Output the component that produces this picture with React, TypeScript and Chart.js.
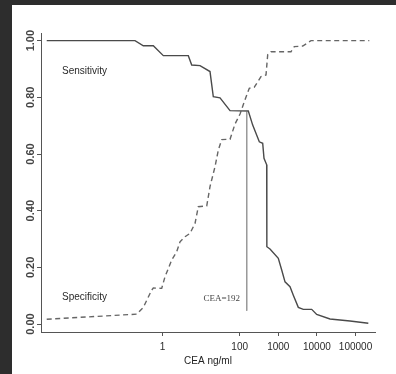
import React, { useEffect, useRef } from "react";
import { Chart, registerables } from "chart.js";

Chart.register(...registerables);

// Sensitivity curve (solid)
const sensitivityX = [0.001, 0.194, 0.318, 0.578, 1.05, 4.66, 5.71, 9.36, 17.0, 20.7, 30.9, 56.1, 167, 217, 322, 394, 426, 500, 505, 609, 1000, 1225, 1492, 2011, 2448, 3298, 4443, 7330, 9880, 21840, 72100, 214800];
const sensitivityY = [1.0, 1.0, 0.982, 0.982, 0.947, 0.947, 0.914, 0.912, 0.891, 0.802, 0.798, 0.753, 0.752, 0.702, 0.643, 0.638, 0.585, 0.562, 0.273, 0.265, 0.232, 0.191, 0.149, 0.132, 0.102, 0.059, 0.052, 0.052, 0.034, 0.018, 0.011, 0.003];

// Specificity curve (dashed)
const specificityX = [0.001, 0.215, 0.318, 0.525, 0.578, 0.953, 1.16, 1.73, 2.33, 2.84, 3.83, 5.16, 6.95, 8.46, 14.0, 17.0, 22.9, 27.9, 34.2, 56.1, 75.5, 102, 137, 177, 239, 356, 480, 531, 647, 2133, 2600, 4290, 7030, 228000];
const specificityY = [0.017, 0.035, 0.059, 0.12, 0.127, 0.126, 0.167, 0.226, 0.255, 0.29, 0.308, 0.32, 0.355, 0.414, 0.417, 0.485, 0.555, 0.614, 0.651, 0.652, 0.706, 0.741, 0.791, 0.832, 0.836, 0.873, 0.879, 0.95, 0.961, 0.961, 0.979, 0.981, 1.0, 1.0];

// Cut-off marker line
const cutoffX = [152, 152];
const cutoffY = [0.749, 0.047];

// Axis ticks
const xTickValues = [1, 100, 1000, 10000, 100000];
const yTickValues = [0, 0.2, 0.4, 0.6, 0.8, 1.0];

// Text notes
const noteTexts = ["Sensitivity", "Specificity", "CEA=192"];
const noteX = [0.0025, 0.0025, 102];
const noteY = [0.893, 0.094, 0.088];

const toPoints = (xs: number[], ys: number[]) => xs.map((x, i) => ({ x, y: ys[i] }));

const notesPlugin = {
  id: "textNotes",
  afterDatasetsDraw(chart: any) {
    const { ctx, scales } = chart;
    const xs = scales.x;
    const ys = scales.y;
    ctx.save();
    ctx.textBaseline = "middle";
    noteTexts.forEach((t, i) => {
      const serif = i === 2;
      ctx.font = serif ? "9px 'Liberation Serif', 'DejaVu Serif', serif" : "10px 'Liberation Sans', Arial, sans-serif";
      ctx.fillStyle = serif ? "#444" : "#2a2a2a";
      ctx.textAlign = serif ? "right" : "left";
      ctx.fillText(t, xs.getPixelForValue(noteX[i]), ys.getPixelForValue(noteY[i]));
    });
    ctx.restore();
  },
};

export default function App() {
  const ref = useRef<HTMLCanvasElement>(null);
  useEffect(() => {
    const chart = new Chart(ref.current as HTMLCanvasElement, {
      type: "line",
      data: {
        datasets: [
          {
            label: "Sensitivity",
            data: toPoints(sensitivityX, sensitivityY),
            borderColor: "#4a4a4a",
            borderWidth: 1.4,
            pointRadius: 0,
            tension: 0,
            fill: false,
          },
          {
            label: "Specificity",
            data: toPoints(specificityX, specificityY),
            borderColor: "#666",
            borderWidth: 1.4,
            borderDash: [5, 3.5],
            pointRadius: 0,
            tension: 0,
            fill: false,
          },
          {
            label: "Cutoff",
            data: toPoints(cutoffX, cutoffY),
            borderColor: "#9a9a9a",
            borderWidth: 1,
            pointRadius: 0,
            tension: 0,
            fill: false,
          },
        ],
      },
      options: {
        animation: false,
        responsive: false,
        devicePixelRatio: 1,
        layout: { padding: { left: 0, top: 28, right: 21, bottom: 0 } },
        plugins: { legend: { display: false }, tooltip: { enabled: false } },
        scales: {
          x: {
            type: "logarithmic",
            min: 0.000711,
            max: 320000,
            afterBuildTicks: (s: any) => {
              s.ticks = xTickValues.map((v) => ({ value: v }));
            },
            afterFit: (s: any) => {
              s.height = 42;
            },
            ticks: {
              autoSkip: false,
              maxRotation: 0,
              minRotation: 0,
              padding: 5.5,
              color: "#2a2a2a",
              font: { family: "'Liberation Sans', Arial, sans-serif", size: 10 },
              callback: (v: any) => String(v),
            },
            grid: { drawOnChartArea: false, drawTicks: true, tickLength: 4, color: "#555" },
            border: { display: true, color: "#555", width: 1 },
            title: {
              display: true,
              text: "CEA ng/ml",
              color: "#222",
              font: { family: "'Liberation Sans', Arial, sans-serif", size: 10 },
              padding: { top: 0, bottom: 7 },
            },
          },
          y: {
            type: "linear",
            min: -0.028,
            max: 1.027,
            afterBuildTicks: (s: any) => {
              s.ticks = yTickValues.map((v) => ({ value: v }));
            },
            afterFit: (s: any) => {
              s.width = 29;
            },
            ticks: {
              autoSkip: false,
              minRotation: 90,
              maxRotation: 90,
              crossAlign: "center",
              padding: -4.5,
              color: "#444",
              font: { family: "'Liberation Sans', Arial, sans-serif", size: 11, weight: "bold" },
              callback: (v: any) => Number(v).toFixed(2),
            },
            grid: { drawOnChartArea: false, drawTicks: true, tickLength: 4, color: "#555" },
            border: { display: true, color: "#555", width: 1 },
          },
        },
      },
      plugins: [notesPlugin],
    } as any);
    return () => chart.destroy();
  }, []);
  return (
    <div
      style={{
        position: "absolute",
        left: 0,
        top: 0,
        width: 396,
        height: 374,
        background: "#2d2d2d",
        overflow: "hidden",
      }}
    >
      <canvas
        ref={ref}
        width={384}
        height={369}
        style={{ position: "absolute", left: 12, top: 5, width: 384, height: 369, background: "#fff" }}
      />
    </div>
  );
}
